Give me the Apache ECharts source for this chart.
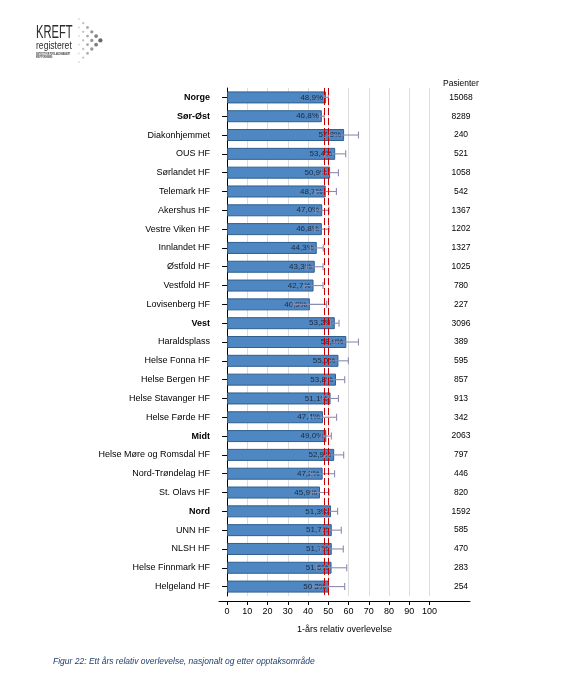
<!DOCTYPE html>
<html><head><meta charset="utf-8">
<script src="https://cdn.jsdelivr.net/npm/echarts@6/dist/echarts.min.js"></script>
<style>html,body{margin:0;padding:0;background:#fff}#c{width:572px;height:688px}</style>
</head><body><div id="c"></div>
<script>
var categories = ['Norge','Sør-Øst','Diakonhjemmet','OUS HF','Sørlandet HF','Telemark HF','Akershus HF','Vestre Viken HF','Innlandet HF','Østfold HF','Vestfold HF','Lovisenberg HF','Vest','Haraldsplass','Helse Fonna HF','Helse Bergen HF','Helse Stavanger HF','Helse Førde HF','Midt','Helse Møre og Romsdal HF','Nord-Trøndelag HF','St. Olavs HF','Nord','UNN HF','NLSH HF','Helse Finnmark HF','Helgeland HF'];
var boldCategories = ['Norge','Sør-Øst','Vest','Midt','Nord'];
var survival = [48.9,46.8,57.8,53.4,50.9,48.7,47.0,46.8,44.3,43.3,42.7,40.9,53.2,58.9,55.0,53.8,51.1,47.4,49.0,52.9,47.2,45.9,51.3,51.7,51.7,51.6,50.3];
var ciLow = [47.8,45.6,50.7,48.2,46.8,43.4,43.7,43.3,41.1,39.2,38.0,32.6,51.1,52.9,50.1,49.5,47.2,40.7,46.5,48.2,41.3,41.5,48.0,47.0,46.0,44.1,42.5];
var ciHigh = [50.0,48.0,64.9,58.6,55.0,54.0,50.3,50.3,47.5,47.4,47.4,49.2,55.3,64.9,59.9,58.1,55.0,54.1,51.5,57.6,53.1,50.3,54.6,56.4,57.4,59.1,58.1];
var patients = ['15068','8289','240','521','1058','542','1367','1202','1327','1025','780','227','3096','389','595','857','913','342','2063','797','446','820','1592','585','470','283','254'];
var xTicks = [0,10,20,30,40,50,60,70,80,90,100];
var nationalCI = [47.8, 50.1];

var FONT = '"Liberation Sans", Arial, sans-serif';
var chart = echarts.init(document.getElementById('c'), null, {renderer:'canvas'});

var errData = categories.map(function(c,i){ return [ciLow[i], ciHigh[i], i]; });

// logo dots (decoration): arrow pointing right, lighter on the left
var dots = [];
for (var c = 0; c < 6; c++) {
  var half = 5 - c;
  for (var r = -half; r <= half; r += 2) {
    var shade = Math.round(215 - c * 22);
    dots.push({type:'circle', shape:{cx: c * 4.3, cy: 22 + r * 4.3, r: 0.9 + c * 0.25},
      style:{fill:'rgb('+shade+','+shade+','+shade+')'}});
  }
}

var option = {
  backgroundColor:'#fff',
  animation:false,
  grid:{left:219, right:102, top:88, bottom:92, containLabel:false},
  xAxis:{
    type:'value', min:-4, max:120, interval:2, offset:5,
    axisLine:{show:true, lineStyle:{color:'#000', width:1}},
    axisTick:{show:true, length:4, lineStyle:{color:'#000'}, customValues: xTicks},
    axisLabel:{color:'#000', fontFamily:FONT, fontSize:9, margin:6, customValues: xTicks},
    splitLine:{show:false},
    name:'1-års relativ overlevelse', nameLocation:'middle', nameGap:24,
    nameTextStyle:{color:'#000', fontFamily:FONT, fontSize:9}
  },
  yAxis:[{
    type:'category', data:categories, inverse:true,
    axisLine:{show:true, lineStyle:{color:'#000'}},
    axisTick:{show:true, length:5, alignWithLabel:true, lineStyle:{color:'#000'}},
    axisLabel:{margin:9, fontFamily:FONT, fontSize:9, color:'#000',
      formatter:function(v){ return boldCategories.indexOf(v)>=0 ? '{b|'+v+'}' : v; },
      rich:{b:{fontWeight:'bold', fontFamily:FONT, fontSize:9, color:'#000'}}}
  },{
    type:'category', data:patients, inverse:true, position:'right',
    axisLine:{show:false}, axisTick:{show:false},
    axisLabel:{inside:true, margin:9, align:'center', fontFamily:FONT, fontSize:8.5, color:'#000'}
  }],
  series:[
    {
      type:'line', data:[], z:0, zlevel:0, silent:true,
      markLine:{silent:true, z:0, symbol:'none', label:{show:false}, animation:false,
        lineStyle:{color:'#dcdcdc', type:'solid', width:1},
        data: xTicks.map(function(v){ return {xAxis:v}; })}
    },
    {
      type:'bar', data:survival, yAxisIndex:0, barWidth:12, z:2,
      itemStyle:{color:'#4f87c3', borderColor:'#2f5f8e', borderWidth:1},
      label:{show:true, position:'insideRight', distance:3, fontFamily:FONT, fontSize:8, color:'#1b2a3d',
        formatter:function(p){ return p.value.toFixed(1).replace('.',',')+'%'; }}
    },
    {
      type:'custom', z:4, data:errData, yAxisIndex:0,
      renderItem:function(params, api){
        var lo = api.coord([api.value(0), api.value(2)]);
        var hi = api.coord([api.value(1), api.value(2)]);
        var h = 3.5;
        var st = {stroke:'#8a8cb0', lineWidth:1.1};
        return {type:'group', children:[
          {type:'line', shape:{x1:lo[0], y1:lo[1], x2:hi[0], y2:hi[1]}, style:st},
          {type:'line', shape:{x1:lo[0], y1:lo[1]-h, x2:lo[0], y2:lo[1]+h}, style:st},
          {type:'line', shape:{x1:hi[0], y1:hi[1]-h, x2:hi[0], y2:hi[1]+h}, style:st}
        ]};
      }
    },
    {
      type:'line', data:[], z:6, silent:true,
      markLine:{silent:true, z:6, symbol:'none', label:{show:false}, animation:false,
        lineStyle:{color:'#c00000', type:[7,3], width:1},
        data: nationalCI.map(function(v){ return {xAxis:v}; })}
    }
  ],
  graphic:[
    {type:'text', x:36, y:24, scaleX:0.62, style:{text:'KREFT', fontFamily:FONT, fontSize:18, fill:'#2b2b2b'}},
    {type:'text', x:36, y:40, scaleX:0.78, style:{text:'registeret', fontFamily:FONT, fontSize:11, fill:'#2b2b2b'}},
    {type:'text', x:36, y:52, scaleX:0.55, style:{text:'INSTITUTT FOR POPULASJONSBASERT\nKREFTFORSKNING', fontFamily:FONT, fontSize:3.2, lineHeight:3.6, fontWeight:'bold', fill:'#333'}},
    {type:'group', left:78, top:18, children: dots},
    {type:'text', left:443, top:79, style:{text:'Pasienter', fontFamily:FONT, fontSize:8.5, fill:'#000'}},
    {type:'text', left:53, top:657, style:{text:'Figur 22: Ett års relativ overlevelse, nasjonalt og etter opptaksområde', fontFamily:FONT, fontSize:8.5, fontStyle:'italic', fill:'#1f3f6f'}}
  ]
};
chart.setOption(option);
</script></body></html>
